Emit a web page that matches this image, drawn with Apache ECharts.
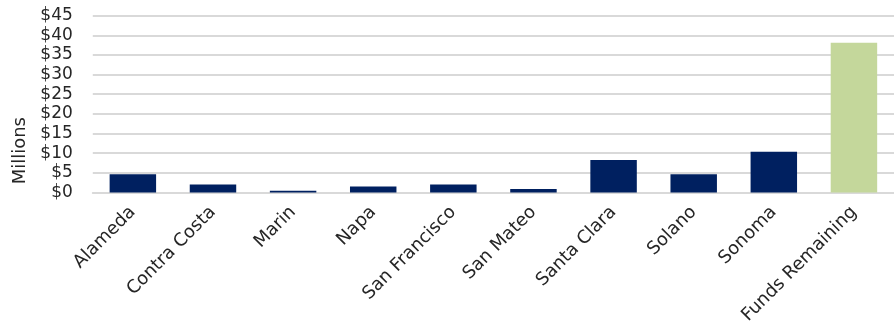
<!DOCTYPE html>
<html><head><meta charset="utf-8">
<script src="https://cdn.jsdelivr.net/npm/echarts@6/dist/echarts.min.js"></script>
<style>html,body{margin:0;padding:0;background:#fff}#c{width:894px;height:327px}</style>
</head><body><div id="c"></div>
<script>
const categories = ["Alameda","Contra Costa","Marin","Napa","San Francisco","San Mateo","Santa Clara","Solano","Sonoma","Funds Remaining"];
const values = [4.6, 2.0, 0.4, 1.5, 2.0, 0.9, 8.25, 4.6, 10.35, 38.1];
const yTicks = [0,5,10,15,20,25,30,35,40,45];
const FONT = "DejaVu Sans";
const chart = echarts.init(document.getElementById('c'));
chart.setOption({
  animation:false,
  grid:{left:92.8,right:-12,top:15.7,bottom:134.3,containLabel:false},
  xAxis:{type:'category',data:categories,
    axisLine:{lineStyle:{color:'#d9d9d9',width:2}},axisTick:{show:false},
    axisLabel:{rotate:45,interval:0,margin:17,fontFamily:FONT,fontSize:18,color:'#262626'}},
  yAxis:{type:'value',min:0,max:45,interval:5,
    axisLine:{show:false},axisTick:{show:false},
    splitLine:{lineStyle:{color:'#d9d9d9',width:2}},
    axisLabel:{margin:20,fontFamily:FONT,fontSize:17,color:'#262626',
      formatter:v=> yTicks.includes(v) ? '$' + v : ''}},
  graphic:[{type:'text',left:11,top:117,rotation:Math.PI/2,
    style:{text:'Millions',font:'18px "DejaVu Sans"',fill:'#262626'}}],
  series:[{type:'bar',barWidth:'58%',
    data:values.map((v,i)=>({value:v,itemStyle:{color: i===categories.length-1 ? '#c4d79b' : '#002060'}}))}]
});
</script></body></html>
